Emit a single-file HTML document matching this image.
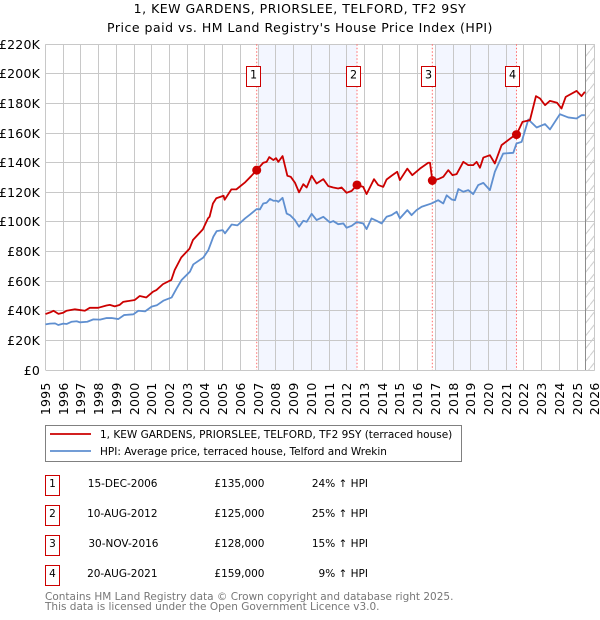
<!DOCTYPE html>
<html lang="en">
<head>
<meta charset="utf-8">
<title>1, KEW GARDENS, PRIORSLEE, TELFORD, TF2 9SY</title>
<style>
html,body{margin:0;padding:0;background:#fff;width:600px;height:620px;overflow:hidden}
svg{display:block}
text{font-family:"DejaVu Sans","Liberation Sans",sans-serif;fill:#000}
.axis{font-size:12.5px;letter-spacing:.2px}
.row{font-size:10.5px}
.foot{font-size:10.5px;fill:#777}
.leg{font-size:10.5px}
.title{font-size:12.5px;letter-spacing:.5px}
</style>
</head>
<body>
<svg id="chart" width="600" height="620" viewBox="0 0 600 620" xmlns="http://www.w3.org/2000/svg">
<defs>
<pattern id="hatch" width="10" height="12.7" patternUnits="userSpaceOnUse">
<line x1="0" y1="12.7" x2="10" y2="0" stroke="#cccccc" stroke-width="1"/>
</pattern>
</defs>
<text class="title" x="300" y="13" text-anchor="middle">1, KEW GARDENS, PRIORSLEE, TELFORD, TF2 9SY</text>
<text class="title" x="300" y="32" text-anchor="middle">Price paid vs. HM Land Registry's House Price Index (HPI)</text>
<g id="plot"></g>

<g>
<rect x="45.5" y="425.5" width="416" height="36" fill="#fff" stroke="#808080" stroke-width="1"/>
<line x1="50" y1="434" x2="91" y2="434" stroke="#cc0000" stroke-width="1.8"/>
<text class="leg" x="100" y="438">1, KEW GARDENS, PRIORSLEE, TELFORD, TF2 9SY (terraced house)</text>
<line x1="50" y1="451" x2="91" y2="451" stroke="#5f8fd0" stroke-width="1.8"/>
<text class="leg" x="100" y="455">HPI: Average price, terraced house, Telford and Wrekin</text>
</g>

<g>
<g>
<rect x="45.5" y="475.5" width="14" height="20" fill="#fff" stroke="#cc0000"/>
<text class="row" x="52.5" y="487" text-anchor="middle">1</text>
<text class="row" x="157.5" y="487" text-anchor="end">15-DEC-2006</text>
<text class="row" x="264.5" y="487" text-anchor="end">£135,000</text>
<text class="row" x="368" y="487" text-anchor="end">24% ↑ HPI</text>
</g>
<g>
<rect x="45.5" y="505.5" width="14" height="20" fill="#fff" stroke="#cc0000"/>
<text class="row" x="52.5" y="517" text-anchor="middle">2</text>
<text class="row" x="157.5" y="517" text-anchor="end">10-AUG-2012</text>
<text class="row" x="264.5" y="517" text-anchor="end">£125,000</text>
<text class="row" x="368" y="517" text-anchor="end">25% ↑ HPI</text>
</g>
<g>
<rect x="45.5" y="535.5" width="14" height="20" fill="#fff" stroke="#cc0000"/>
<text class="row" x="52.5" y="547" text-anchor="middle">3</text>
<text class="row" x="158.5" y="547" text-anchor="end">30-NOV-2016</text>
<text class="row" x="264.5" y="547" text-anchor="end">£128,000</text>
<text class="row" x="368" y="547" text-anchor="end">15% ↑ HPI</text>
</g>
<g>
<rect x="45.5" y="565.5" width="14" height="20" fill="#fff" stroke="#cc0000"/>
<text class="row" x="52.5" y="577" text-anchor="middle">4</text>
<text class="row" x="157.5" y="577" text-anchor="end">20-AUG-2021</text>
<text class="row" x="264.5" y="577" text-anchor="end">£159,000</text>
<text class="row" x="368" y="577" text-anchor="end">9% ↑ HPI</text>
</g>
</g>

<text class="foot" x="45" y="600">Contains HM Land Registry data © Crown copyright and database right 2025.</text>
<text class="foot" x="45" y="610">This data is licensed under the Open Government Licence v3.0.</text>
</svg>

<script>
var yearTicks = [1995,1996,1997,1998,1999,2000,2001,2002,2003,2004,2005,2006,2007,2008,2009,2010,2011,2012,2013,2014,2015,2016,2017,2018,2019,2020,2021,2022,2023,2024,2025,2026];
var valueTicks = [0,20,40,60,80,100,120,140,160,180,200,220];
var valueLabels = ["£0","£20K","£40K","£60K","£80K","£100K","£120K","£140K","£160K","£180K","£200K","£220K"];

var hpiDates = [1995.0,1995.25,1995.54,1995.72,1996.0,1996.2,1996.48,1996.76,1996.95,1997.36,1997.7,1998.08,1998.45,1998.73,1999.11,1999.43,1999.96,2000.24,2000.62,2000.99,2001.28,2001.65,2002.12,2002.4,2002.68,2003.15,2003.34,2003.91,2004.19,2004.47,2004.66,2005.0,2005.13,2005.51,2005.83,2006.26,2006.54,2006.92,2007.1,2007.29,2007.48,2007.67,2007.86,2008.05,2008.14,2008.38,2008.61,2008.8,2009.08,2009.31,2009.55,2009.74,2010.02,2010.3,2010.68,2011.05,2011.24,2011.52,2011.81,2011.99,2012.28,2012.56,2012.93,2013.12,2013.4,2013.69,2013.97,2014.25,2014.53,2014.82,2015.0,2015.42,2015.66,2015.94,2016.23,2016.79,2017.16,2017.45,2017.64,2017.92,2018.11,2018.3,2018.58,2018.86,2019.14,2019.42,2019.71,2020.08,2020.36,2020.83,2021.4,2021.58,2021.87,2022.25,2022.72,2023.19,2023.47,2024.03,2024.5,2024.97,2025.25,2025.44];
var hpiValues = [30.8,31.3,31.5,30.4,31.3,31.1,32.6,32.9,32.2,32.6,34.2,34,35.1,35.1,34.4,37.1,37.6,40,39.6,42.8,43.7,46.8,49,55.1,60.8,66.4,71.3,76,81,90,93.8,94.5,92.3,98.3,97.7,102.4,105,108.7,108.5,112.5,113,115.6,114.3,114.3,113.6,116.3,105.7,104.6,101.2,96.8,100.8,100.1,105.5,101.3,103.5,99.7,100.6,98.5,99,96.1,97.4,99.9,99,95.2,102.4,100.8,99,103.5,104.6,106.9,102.4,108,104.6,108,110.3,112.5,114.7,112.5,118,115.2,114.7,122.2,120.4,121.5,118.8,124.9,126.4,121.5,133.9,146.2,146.7,153,154.1,169.2,163.8,166.1,162.5,172.8,170.6,169.9,172.1,172.1];

var priceDates = [1995.0,1995.26,1995.45,1995.73,1996.0,1996.19,1996.66,1997.22,1997.5,1997.97,1998.44,1998.63,1998.91,1999.19,1999.38,2000.04,2000.32,2000.69,2001.07,2001.26,2001.63,2002.1,2002.29,2002.66,2003.13,2003.32,2003.88,2004.17,2004.26,2004.45,2004.64,2005.05,2005.11,2005.49,2005.77,2006.24,2006.61,2006.92,2007.29,2007.48,2007.63,2007.86,2008.01,2008.14,2008.38,2008.65,2008.84,2009.08,2009.31,2009.55,2009.74,2010.02,2010.3,2010.68,2010.96,2011.24,2011.52,2011.71,2011.99,2012.28,2012.58,2012.93,2013.12,2013.54,2013.78,2014.06,2014.25,2014.53,2014.85,2015.0,2015.42,2015.7,2016.13,2016.6,2016.7,2016.83,2017.16,2017.45,2017.73,2017.97,2018.2,2018.58,2018.86,2019.14,2019.33,2019.52,2019.71,2020.08,2020.36,2020.74,2021.36,2021.58,2021.92,2022.34,2022.68,2022.91,2023.19,2023.47,2023.87,2024.12,2024.36,2024.97,2025.25,2025.44];
var priceValues = [37.8,38.9,40,37.9,38.7,40,41,40,42,42,43.6,44,43,44,46,47.3,50,49,52.9,54,58,60.8,67.5,76,82,87.8,95,102.4,103.5,112.5,116,117.7,115,122,122,126.5,131,135,140,140.6,143.8,141.8,143.1,140.6,144.5,131.2,130.5,126.5,120,125.5,123.3,131.2,126,128.9,124.2,123.3,122.6,123.3,119.7,121,125,123.7,118.8,128.9,124.9,123.7,128.7,131.2,133.9,128.3,136,131.6,136,140,140,128,128.9,130.5,135,131.6,132.3,140.6,138.4,138.4,140.6,136.6,143.5,145.1,139.5,151.9,157.5,159,167.6,168.8,185,183.4,178.9,181.8,180.5,176.6,184.5,188.5,185,187.9];

var saleNumbers = ["1","2","3","4"];
var saleDates = [2006.92,2012.58,2016.83,2021.58];
var saleValues = [135,125,128,159];

var X0 = 45.5, X1 = 594.8, Y0 = 370, Y1 = 44.3;
var plot = document.getElementById('plot');
var NS = 'http://www.w3.org/2000/svg';

function xScale(year) { return X0 + (year - yearTicks[0]) * (X1 - X0) / (yearTicks[yearTicks.length - 1] - yearTicks[0]); }
function yScale(value) { return Y0 + value * (Y1 - Y0) / valueTicks[valueTicks.length - 1]; }
function crisp(v) { return Math.floor(v) + 0.5; }
function make(tag, props, parent) {
  var el = document.createElementNS(NS, tag);
  for (var k in props) { el.setAttribute(k, props[k]); }
  (parent || plot).appendChild(el);
  return el;
}
function pathFor(dates, values) {
  var d = '';
  for (var i = 0; i < dates.length; i++) {
    d += (i ? 'L' : 'M') + xScale(dates[i]).toFixed(2) + ' ' + yScale(values[i]).toFixed(2);
  }
  return d;
}

// Alternating shaded spans between sales
var band1 = make('rect', {x: xScale(Math.ceil(saleDates[0])), y: Y1, width: xScale(saleDates[1]) - xScale(Math.ceil(saleDates[0])), height: Y0 - Y1, fill: '#f3f6ff'});


var band2 = make('rect', {x: xScale(Math.ceil(saleDates[2])), y: Y1, width: xScale(saleDates[3]) - xScale(Math.ceil(saleDates[2])), height: Y0 - Y1, fill: '#f3f6ff'});



// Grid and ticks
yearTicks.forEach(function (yr) {
  var x = crisp(xScale(yr));
  var g = make('line', {x1: x, x2: x, y1: Y1, y2: Y0, stroke: '#c8c8c8', 'stroke-width': 1});
  
  
  var t = make('text', {'class': 'axis', 'text-anchor': 'end', transform: 'translate(' + (x + 4.5) + ' 382.5) rotate(-90)'});
  
  
  t.textContent = yr;
});
valueTicks.forEach(function (v, i) {
  var y = crisp(yScale(v));
  var g = make('line', {x1: X0, x2: X1, y1: y, y2: y, stroke: '#c8c8c8', 'stroke-width': 1});
  
  
  var t = make('text', {'class': 'axis', x: 40, y: y + 4.5, 'text-anchor': 'end'});
  
  
  t.textContent = valueLabels[i];
});

// Hatched no-data region at the right edge
var hatchRect = make('rect', {x: xScale(2025.5), y: Y1, width: X1 - xScale(2025.5), height: Y0 - Y1, fill: 'url(#hatch)'});


var endLine = make('line', {x1: crisp(xScale(2025.5)), x2: crisp(xScale(2025.5)), y1: Y1, y2: Y0, stroke: '#8c8c8c', 'stroke-width': 1});



// Sale guide lines
saleDates.forEach(function (d) {
  var x = xScale(d);
  var l = make('line', {x1: x, x2: x, y1: Y1, y2: Y0, stroke: '#ff6b6b', 'stroke-width': 1, 'stroke-dasharray': '1.5 2'});
  
  
});

// Series
var hpiLine = make('path', {d: pathFor(hpiDates, hpiValues), fill: 'none', stroke: '#5f8fd0', 'stroke-width': 1.8, 'stroke-linejoin': 'round'});


var priceLine = make('path', {d: pathFor(priceDates, priceValues), fill: 'none', stroke: '#cc0000', 'stroke-width': 1.8, 'stroke-linejoin': 'round'});



// Sale markers and number badges
saleDates.forEach(function (d, i) {
  var x = xScale(d);
  var m = make('circle', {cx: x, cy: yScale(saleValues[i]), r: 4.5, fill: '#cc0000'});
  
  
  var b = make('rect', {x: crisp(x - 10.5), y: 66.5, width: 14, height: 20, fill: '#fff', stroke: '#cc0000', 'stroke-width': 1});
  
  
  var t = make('text', {x: crisp(x - 10.5) + 7, y: 78.5, 'text-anchor': 'middle', 'font-size': 11.2});
  
  
  t.textContent = saleNumbers[i];
});
</script>
</body>
</html>
